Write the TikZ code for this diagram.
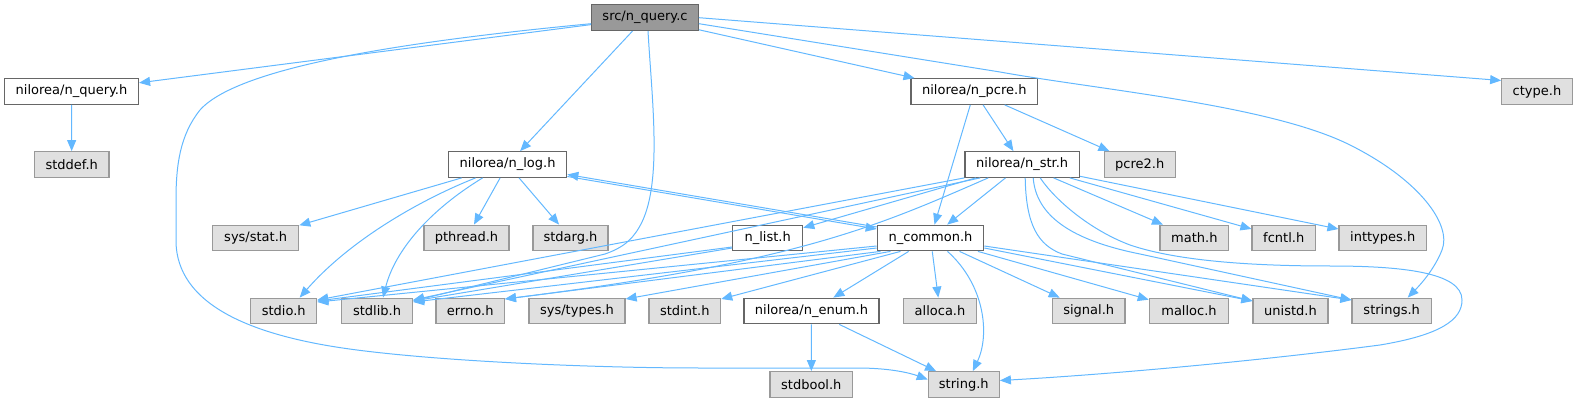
\documentclass[tikz,border=0pt]{standalone}
\usepackage{fontspec}
\setmainfont{DejaVu Sans}
\usetikzlibrary{arrows.meta}
\definecolor{edgeblue}{HTML}{63B8FF}
\definecolor{boxgray}{HTML}{E0E0E0}
\definecolor{rootgray}{HTML}{999999}
\definecolor{framegray}{HTML}{999999}
\definecolor{framedark}{HTML}{666666}

\begin{document}
\begin{tikzpicture}[x=1pt,y=-1pt,
            font=\fontsize{13}{15}\selectfont,
            file/.style = {draw=framedark,
                        fill=white,
                        line width=1.2pt,
                        minimum height=25.6pt,
                        inner sep=0pt},
            sys/.style = {file, draw=framegray, fill=boxgray},
            root/.style = {file, fill=rootgray},
            inc/.style = {draw=edgeblue, line width=1pt,
                        -{Triangle[length=11pt,width=9pt]}}]
            \useasboundingbox (0,0) rectangle (1578,403);
            % Source file
            \node[root,minimum width=106.6pt] (qc) at (645,17.7) {src/n\_query.c};
            % Second row
            \node[file,minimum width=134pt] (qh) at (71.5,91.5) {nilorea/n\_query.h};
            \node[file,minimum width=126.6pt] (npcre) at (974.3,91.5) {nilorea/n\_pcre.h};
            \node[sys,minimum width=70.5pt] (ctype) at (1537,91.5) {ctype.h};
            % Third row
            \node[sys,minimum width=74.5pt] (stddef) at (71.7,164.5) {stddef.h};
            \node[file,minimum width=118.3pt] (nlog) at (507.6,164.5) {nilorea/n\_log.h};
            \node[file,minimum width=114.6pt] (nstr) at (1022.2,164.5) {nilorea/n\_str.h};
            \node[sys,minimum width=70.8pt] (pcre2) at (1139.7,164.5) {pcre2.h};
            % Fourth row
            \node[sys,minimum width=86pt] (sysstat) at (255.7,238) {sys/stat.h};
            \node[sys,minimum width=85pt] (pthread) at (466.5,238) {pthread.h};
            \node[sys,minimum width=75pt] (stdarg) at (570.5,238) {stdarg.h};
            \node[file,minimum width=70pt] (nlist) at (767.7,238) {n\_list.h};
            \node[file,minimum width=106.4pt] (ncommon) at (930.5,238) {n\_common.h};
            \node[sys,minimum width=68.7pt] (math) at (1194.3,238) {math.h};
            \node[sys,minimum width=63.3pt] (fcntl) at (1283.7,238) {fcntl.h};
            \node[sys,minimum width=87.3pt] (inttypes) at (1382.7,238) {inttypes.h};
            % Fifth row
            \node[sys,minimum width=66pt] (stdio) at (283.7,311) {stdio.h};
            \node[sys,minimum width=71pt] (stdlib) at (377,311) {stdlib.h};
            \node[sys,minimum width=68.3pt] (errno) at (470.2,311) {errno.h};
            \node[sys,minimum width=96pt] (systypes) at (577,311) {sys/types.h};
            \node[sys,minimum width=71.7pt] (stdint) at (684.8,311) {stdint.h};
            \node[file,minimum width=135pt] (nenum) at (811.5,311) {nilorea/n\_enum.h};
            \node[sys,minimum width=73.4pt] (alloca) at (940,311) {alloca.h};
            \node[sys,minimum width=72.7pt] (signal) at (1088.7,311) {signal.h};
            \node[sys,minimum width=79.4pt] (malloc) at (1189,311) {malloc.h};
            \node[sys,minimum width=75pt] (unistd) at (1290.5,311) {unistd.h};
            \node[sys,minimum width=79.3pt] (strings) at (1391.7,311) {strings.h};
            % Last row
            \node[sys,minimum width=82.7pt] (stdbool) at (811.3,384.5) {stdbool.h};
            \node[sys,minimum width=71pt] (string) at (963.8,384.5) {string.h};
            % src/n_query.c
            \draw[inc] (qc) -- (qh);
            \draw[inc] (qc) -- (nlog);
            \draw[inc] (qc) -- (npcre);
            \draw[inc] (qc.east) -- ([yshift=11pt]ctype.west);
            \draw[inc] ([yshift=-6pt]qc.east) -- (1000,72) .. controls (1100,90) and (1270,105) .. (1350,145)
                .. controls (1420,180) and (1452,225) .. (1442,250) .. controls (1434,270) and (1420,285) .. ([xshift=16pt]strings.north);
            \draw[inc] ([yshift=-6pt]qc.west) .. controls (420,40) and (240,65) .. (200,110)
                .. controls (180,135) and (176,165) .. (176,200) -- (176,243) .. controls (178,300) and (240,335) .. (357,350)
                .. controls (450,362) and (600,368) .. (700,368) -- (857,368) .. controls (890,368) and (910,373) .. ([yshift=5pt]string.west);
            \draw[inc] ([xshift=3pt]qc.south) .. controls (652,100) and (662,180) .. (642,222)
                .. controls (634,238) and (625,247) .. (605,254) -- ([yshift=10pt]stdlib.east);
            % nilorea/n_query.h
            \draw[inc] (qh) -- (stddef);
            % nilorea/n_pcre.h
            \draw[inc] (npcre) -- (ncommon);
            \draw[inc] (npcre) -- (nstr);
            \draw[inc] (npcre) -- (pcre2);
            % nilorea/n_log.h
            \draw[inc] (nlog) -- (sysstat);
            \draw[inc] ([xshift=-32pt]nlog.south) .. controls (420,200) and (350,240) .. ([xshift=16pt]stdio.north);
            \draw[inc] ([xshift=-25pt]nlog.south) .. controls (430,210) and (395,250) .. ([xshift=6pt]stdlib.north);
            \draw[inc] (nlog) -- (pthread);
            \draw[inc] (nlog) -- (stdarg);
            \draw[inc] ([yshift=-12pt]nlog.east) -- ([yshift=9pt]ncommon.west);
            % nilorea/n_str.h
            \draw[inc] (nstr.south west) -- ([yshift=11pt]stdio.east);
            \draw[inc] ([xshift=-42pt]nstr.south) -- ([yshift=11pt]stdlib.east);
            \draw[inc] ([xshift=-34pt]nstr.south) .. controls (880,225) and (800,262) .. ([yshift=12pt]errno.east);
            \draw[inc] (nstr) -- (nlist);
            \draw[inc] (nstr) -- (ncommon);
            \draw[inc] (nstr) -- (math);
            \draw[inc] (nstr) -- (fcntl);
            \draw[inc] (nstr) -- (inttypes);
            \draw[inc] ([xshift=3pt]nstr.south) .. controls (1026,225) and (1038,245) .. (1062,254) -- ([yshift=10pt]unistd.west);
            \draw[inc] ([xshift=11pt]nstr.south) .. controls (1036,215) and (1070,240) .. (1140,254) -- ([yshift=11pt]strings.west);
            \draw[inc] ([xshift=18pt]nstr.south) .. controls (1055,200) and (1090,230) .. (1130,245)
                .. controls (1180,262) and (1260,266) .. (1330,266) .. controls (1400,266) and (1462,272) .. (1462,300)
                .. controls (1462,320) and (1440,335) .. (1380,345) .. controls (1250,362) and (1100,375) .. ([yshift=4pt]string.east);
            % n_list.h
            \draw[inc] ([yshift=-9pt]nlist.west) -- ([yshift=10pt]stdio.east);
            \draw[inc] ([yshift=-10pt]nlist.west) -- ([yshift=10pt]stdlib.east);
            % n_common.h
            \draw[inc] ([yshift=11pt]ncommon.west) -- ([yshift=-10pt]nlog.east);
            \draw[inc] ([yshift=-8pt]ncommon.west) -- ([yshift=9pt]stdio.east);
            \draw[inc] ([yshift=-10pt]ncommon.west) -- ([yshift=9pt]stdlib.east);
            \draw[inc] ([xshift=-50pt]ncommon.south) -- ([yshift=12pt]errno.east);
            \draw[inc] ([xshift=-40pt]ncommon.south) -- ([yshift=12pt]systypes.east);
            \draw[inc] ([xshift=-30pt]ncommon.south) -- ([yshift=12pt]stdint.east);
            \draw[inc] (ncommon) -- (nenum);
            \draw[inc] (ncommon) -- (alloca);
            \draw[inc] ([xshift=17pt]ncommon.south) .. controls (985,285) and (990,335) .. ([xshift=9pt]string.north);
            \draw[inc] (ncommon) -- (signal);
            \draw[inc] (ncommon) -- (malloc);
            \draw[inc] ([yshift=-10pt]ncommon.east) -- ([yshift=10pt]unistd.west);
            \draw[inc] ([yshift=-8pt]ncommon.east) -- ([yshift=11pt]strings.west);
            % nilorea/n_enum.h
            \draw[inc] (nenum) -- (stdbool);
            \draw[inc] (nenum) -- (string);
        \end{tikzpicture}
\end{document}
